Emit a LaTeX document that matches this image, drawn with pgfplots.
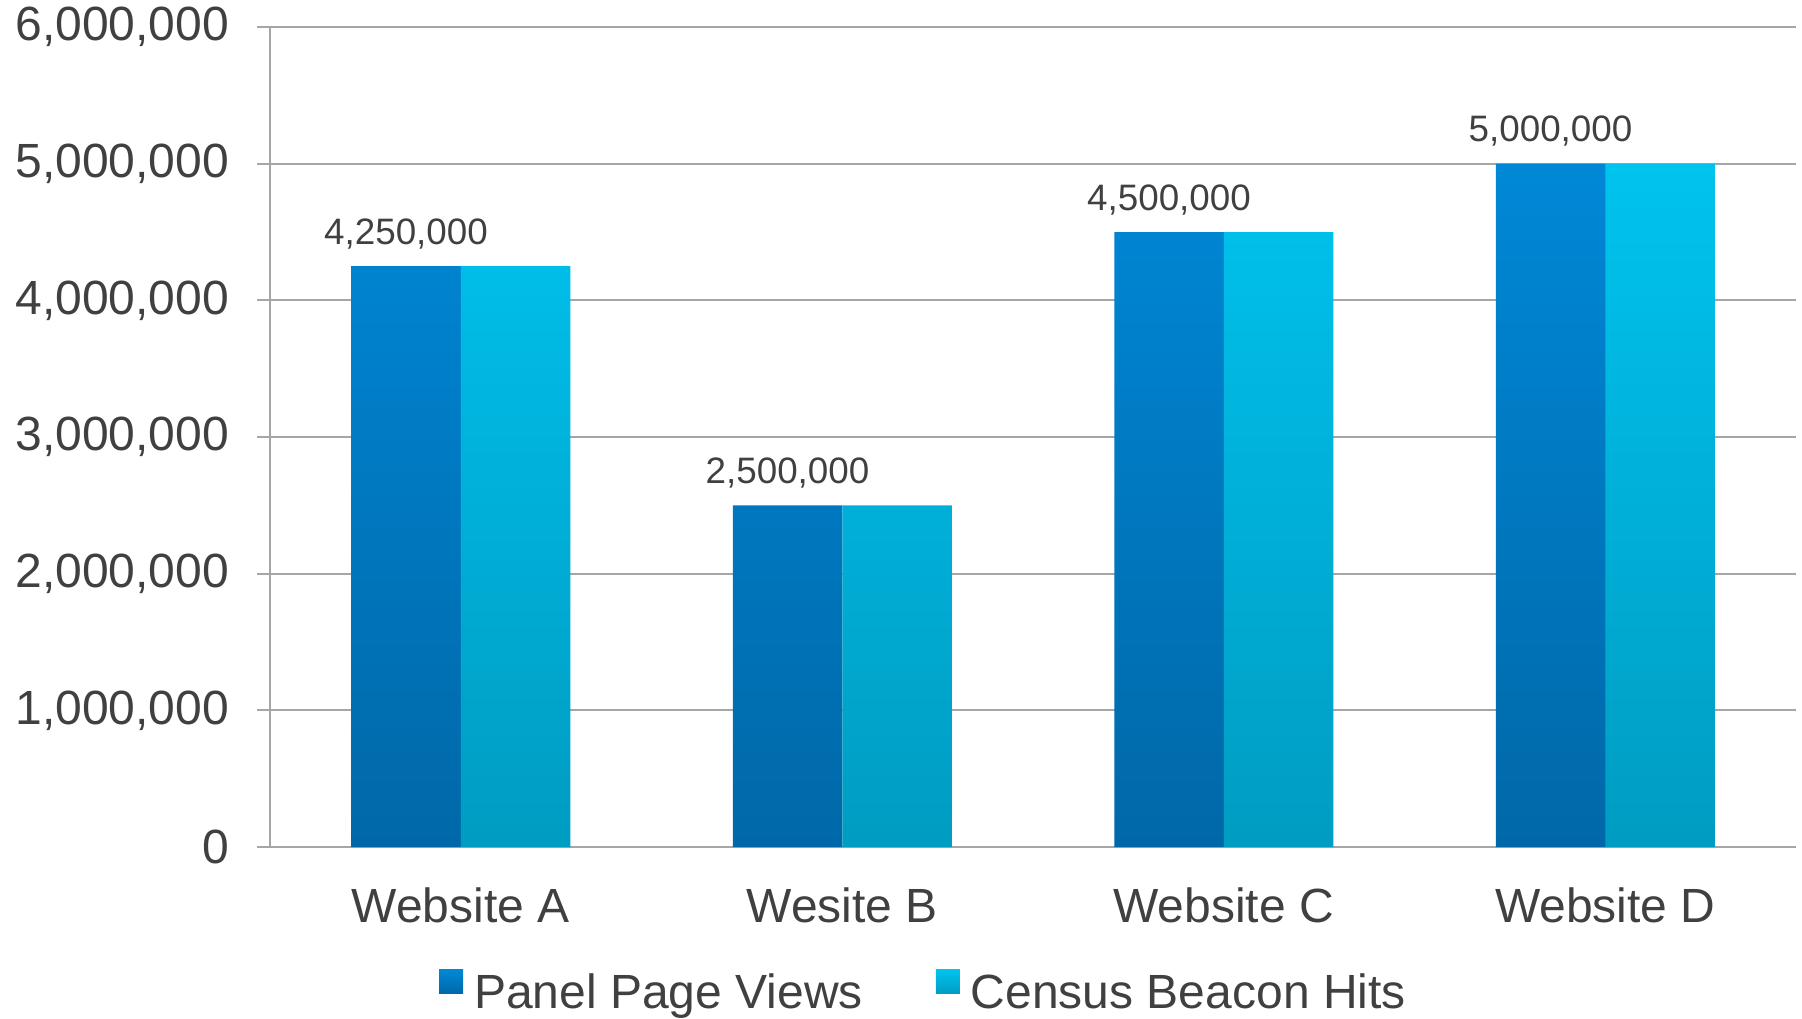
\documentclass[border=0pt]{standalone}
\usepackage{pgfplots}
\pgfplotsset{compat=1.18}
\usepackage{fontspec}
\setmainfont{Liberation Sans}
\definecolor{txt}{HTML}{404040}
\definecolor{gridc}{HTML}{A6A6A6}
\definecolor{dtop}{HTML}{0088D6}
\definecolor{dbot}{HTML}{0068A8}
\definecolor{ltop}{HTML}{00C3EE}
\definecolor{lbot}{HTML}{009CC2}
\begin{document}
\begin{tikzpicture}
\useasboundingbox (0,0) rectangle (901pt,509pt);
\begin{axis}[
  at={(135pt,85.5pt)}, anchor=south west,
  scale only axis, width=763pt, height=410pt,
  xmin=-0.5, xmax=3.5, ymin=0, ymax=6000000,
  ybar, bar width=54.75pt,
  ytick={0,1000000,2000000,3000000,4000000,5000000,6000000},
  scaled y ticks=false,
  xtick={0,1,2,3},
  xticklabels={Website A, Wesite B, Website C, Website D},
  minor xtick={-0.5,0.5,1.5,2.5,3.5},
  xtick style={draw=none},
  tick align=outside,
  major tick length=6.5pt,
  minor tick length=5pt,
  tick style={draw=gridc, line width=1pt},
  minor tick style={draw=gridc, line width=1pt},
  ymajorgrids,
  grid style={draw=gridc, line width=1pt},
  axis x line*=bottom, axis y line*=left,
  axis line style={draw=gridc, line width=1pt, -},
  ticklabel style={text=txt, font=\fontsize{24}{28}\selectfont},
  yticklabel style={inner sep=0pt, xshift=-13.75pt},
  xticklabel style={inner sep=0pt, yshift=-13.5pt},
  /pgf/number format/fixed,
  /pgf/number format/precision=0,
  /pgf/number format/1000 sep={,},
  /pgf/number format/assume math mode=true,
  legend style={at={(0.4289,-0.1445)}, anchor=north, draw=none, fill=none,
    font=\fontsize{24}{28}\selectfont, text=txt,
    /tikz/every odd column/.append style={column sep=3.5pt},
    /tikz/every even column/.append style={column sep=34.5pt}},
  legend columns=2,
]
\addplot[draw=none, top color=dtop, bottom color=dbot, bar shift=-27.375pt,
  nodes near coords,
  every node near coord/.append style={inner sep=0pt, text depth=0pt, yshift=10.7pt,
    text=txt, font=\fontsize{18.4}{20}\selectfont},
  legend image code/.code={\shade[top color=dtop,bottom color=dbot] (0pt,-0.5pt) rectangle (12pt,11.5pt);}]
  coordinates {(0,4250000) (1,2500000) (2,4500000) (3,5000000)};
\addlegendentry{Panel Page Views}
\addplot[draw=none, top color=ltop, bottom color=lbot, bar shift=27.375pt,
  legend image code/.code={\shade[top color=ltop,bottom color=lbot] (0pt,-0.5pt) rectangle (12pt,11.5pt);}]
  coordinates {(0,4250000) (1,2500000) (2,4500000) (3,5000000)};
\addlegendentry{Census Beacon Hits}
\end{axis}
\end{tikzpicture}
\end{document}
